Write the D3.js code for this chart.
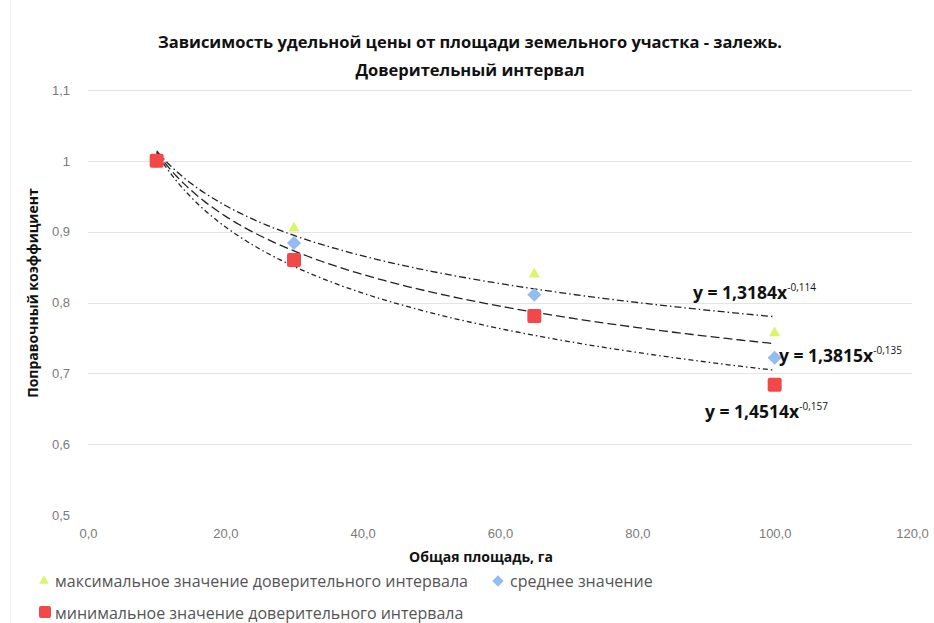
<!DOCTYPE html>
<html>
<head>
<meta charset="utf-8">
<script src="https://cdn.jsdelivr.net/npm/d3@7"></script>
<style>
  body { margin: 0; background: #fff; }
  svg { display: block; font-family: "Open Sans", "DejaVu Sans", sans-serif; }
</style>
</head>
<body>
<svg id="chart" width="934" height="623"></svg>
<script>
// areas, ha
const areas = [10, 30, 65, 100];
// series
const maxValues = [1.0, 0.905, 0.840, 0.757];
const meanValues = [1.0, 0.884, 0.811, 0.722];
const minValues = [1.0, 0.860, 0.781, 0.684];
// trendline coefficients y = a*x^b as printed on the chart
const trendA = [1.3184, 1.3815, 1.4514];
const trendB = [-0.114, -0.135, -0.157];
const trendLabels = ["1,3184", "1,3815", "1,4514"];
const trendPowers = ["-0,114", "-0,135", "-0,157"];

const xTicks = [0, 20, 40, 60, 80, 100, 120];
const yTicks = [0.5, 0.6, 0.7, 0.8, 0.9, 1.0, 1.1];
const yTickLabels = ["0,5", "0,6", "0,7", "0,8", "0,9", "1", "1,1"];

const svg = d3.select("svg#chart");

let margin = { top: 90, right: 22, bottom: 108, left: 88 };
let plotWidth = 934 - margin.left - margin.right;
let plotHeight = 623 - margin.top - margin.bottom;

let x = d3.scaleLinear().domain([0, 120]).range([0, plotWidth]);
let y = d3.scaleLinear().domain([0.5, 1.1]).range([plotHeight, 0]);

// faint outer frame
svg.append("line").attr("x1", 10.5).attr("x2", 10.5).attr("y1", 0).attr("y2", 623)
    .attr("stroke", "#eeeeee");

let plot = svg.append("g")
    .attr("transform", "translate(" + margin.left + "," + margin.top + ")");

// gridlines
plot.append("g")
    .selectAll("line")
    .data(yTicks.slice(1))
    .enter()
    .append("line")
    .attr("x1", 0)
    .attr("x2", plotWidth)
    .attr("y1", d => Math.round(y(d)) + 0.5)
    .attr("y2", d => Math.round(y(d)) + 0.5)
    .attr("stroke", "#e4e4e4")
    .attr("stroke-width", 1);

// axes (labels only, like excel)
let xAxis = d3.axisBottom(x).tickValues(xTicks)
    .tickFormat(d => d3.format(".1f")(d).replace(".", ","))
    .tickSize(0).tickPadding(14);
let yAxis = d3.axisLeft(y).tickValues(yTicks)
    .tickFormat((d, i) => yTickLabels[i])
    .tickSize(0).tickPadding(18);

let gx = plot.append("g")
    .attr("transform", "translate(0," + plotHeight + ")")
    .call(xAxis);
let gy = plot.append("g").call(yAxis);
[gx, gy].forEach(g => {
    g.select(".domain").remove();
    g.selectAll("text")
        .attr("fill", "#7a7a7a")
        .style("font-size", "13px")
        .style("font-family", "'Liberation Sans', sans-serif");
});

// trendlines
const dashes = ["7,3,1.5,3", "9,4", "5,3,1.5,3"];
for (let i = 0; i < trendA.length; i++) {
    let pts = d3.range(10, 100.01, 1).map(v => [v, trendA[i] * Math.pow(v, trendB[i])]);
    let line = d3.line()
        .x(d => x(d[0]))
        .y(d => y(d[1]))
        .curve(d3.curveMonotoneX);
    plot.append("path")
        .attr("d", line(pts))
        .attr("fill", "none")
        .attr("stroke", "#222")
        .attr("stroke-width", 1.3)
        .attr("stroke-dasharray", dashes[i]);
}

// markers
const triColor = "#d9f56b";
const diaColor = "#93bdf2";
const sqColor = "#f24848";

plot.selectAll(".tri")
    .data(areas.map((a, i) => [a, maxValues[i]]))
    .enter()
    .append("path")
    .attr("class", "tri")
    .attr("d", d3.symbol().type(d3.symbolTriangle).size(55))
    .attr("transform", d => "translate(" + x(d[0]) + "," + y(d[1]) + ")")
    .attr("fill", triColor);

plot.selectAll(".dia")
    .data(areas.map((a, i) => [a, meanValues[i]]))
    .enter()
    .append("rect")
    .attr("class", "dia")
    .attr("x", -5).attr("y", -5).attr("width", 10).attr("height", 10)
    .attr("transform", d => "translate(" + x(d[0]) + "," + y(d[1]) + ") rotate(45)")
    .attr("fill", diaColor);

plot.selectAll(".sq")
    .data(areas.map((a, i) => [a, minValues[i]]))
    .enter()
    .append("rect")
    .attr("class", "sq")
    .attr("x", -7).attr("y", -7).attr("width", 14).attr("height", 14)
    .attr("rx", 2)
    .attr("transform", d => "translate(" + x(d[0]) + "," + y(d[1]) + ")")
    .attr("fill", sqColor);

// trend equations
const labelPos = [[693, 299], [779, 362], [705, 418]];
for (let i = 0; i < trendLabels.length; i++) {
    let t = svg.append("text")
        .attr("x", labelPos[i][0])
        .attr("y", labelPos[i][1])
        .attr("fill", "#111")
        .style("font-weight", "bold")
        .style("font-size", "17.5px");
    t.append("tspan").text("y = " + trendLabels[i] + "x");
    t.append("tspan")
        .attr("dy", -8)
        .style("font-size", "10px")
        .style("font-weight", "normal")
        .text(trendPowers[i]);
}

// titles
svg.append("text")
    .attr("x", 470).attr("y", 48)
    .attr("text-anchor", "middle")
    .style("font-weight", "bold").style("font-size", "16.5px")
    .attr("fill", "#111")
    .text("Зависимость удельной цены от площади земельного участка - залежь.");
svg.append("text")
    .attr("x", 470).attr("y", 76)
    .attr("text-anchor", "middle")
    .style("font-weight", "bold").style("font-size", "16.5px")
    .attr("fill", "#111")
    .text("Доверительный интервал");

svg.append("text")
    .attr("transform", "translate(38,293) rotate(-90)")
    .attr("text-anchor", "middle")
    .style("font-weight", "bold").style("font-size", "14px")
    .attr("fill", "#111")
    .text("Поправочный коэффициент");

svg.append("text")
    .attr("x", 481).attr("y", 562)
    .attr("text-anchor", "middle")
    .style("font-weight", "bold").style("font-size", "14px")
    .attr("fill", "#111")
    .text("Общая площадь, га");

// legend
let legend = svg.append("g").style("font-size", "16px").attr("fill", "#555");
legend.append("path")
    .attr("d", d3.symbol().type(d3.symbolTriangle).size(40))
    .attr("transform", "translate(44,581)")
    .attr("fill", triColor);
legend.append("text").attr("x", 55).attr("y", 587)
    .text("максимальное значение доверительного интервала");
legend.append("rect")
    .attr("x", -4).attr("y", -4).attr("width", 8).attr("height", 8)
    .attr("transform", "translate(498,581) rotate(45)")
    .attr("fill", diaColor);
legend.append("text").attr("x", 510).attr("y", 587)
    .text("среднее значение");
legend.append("rect")
    .attr("x", 39).attr("y", 606).attr("width", 12).attr("height", 12)
    .attr("rx", 2)
    .attr("fill", sqColor);
legend.append("text").attr("x", 55).attr("y", 619)
    .text("минимальное значение доверительного интервала");
</script>
</body>
</html>
